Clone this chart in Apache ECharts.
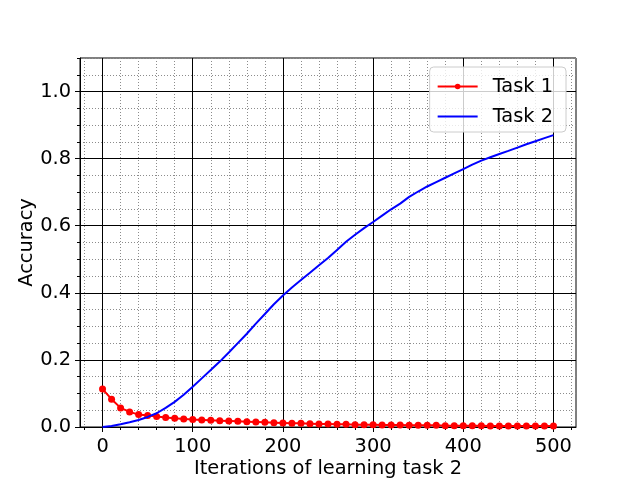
<!DOCTYPE html>
<html>
<head>
<meta charset="utf-8">
<script src="https://cdn.jsdelivr.net/npm/echarts@6/dist/echarts.min.js"></script>
<style>html,body{margin:0;padding:0;background:#fff}#c{width:640px;height:480px}</style>
</head>
<body>
<div id="c"></div>
<script>
const iterations = [0,10,20,30,40,50,60,70,80,90,100,110,120,130,140,150,160,170,180,190,200,210,220,230,240,250,260,270,280,290,300,310,320,330,340,350,360,370,380,390,400,410,420,430,440,450,460,470,480,490,500];
const task1 = [0.113,0.083,0.057,0.045,0.037,0.034,0.031,0.028,0.026,0.024,0.022,0.021,0.020,0.019,0.018,0.017,0.016,0.015,0.014,0.013,0.012,0.011,0.011,0.010,0.009,0.009,0.008,0.008,0.007,0.007,0.007,0.006,0.006,0.006,0.005,0.005,0.005,0.005,0.004,0.004,0.004,0.004,0.004,0.003,0.003,0.003,0.003,0.003,0.003,0.003,0.003];
const task2 = [0.000,0.003,0.008,0.014,0.021,0.030,0.041,0.057,0.075,0.096,0.120,0.145,0.170,0.195,0.222,0.250,0.278,0.308,0.337,0.366,0.392,0.416,0.438,0.460,0.482,0.504,0.528,0.552,0.573,0.593,0.611,0.630,0.649,0.666,0.686,0.702,0.717,0.730,0.743,0.756,0.769,0.782,0.794,0.804,0.814,0.823,0.833,0.843,0.852,0.861,0.870];
const xMajorTicks = [0,100,200,300,400,500];
const xMinorTicks = [-20,0,20,40,60,80,100,120,140,160,180,200,220,240,260,280,300,320,340,360,380,400,420,440,460,480,500,520];
const yMajorTicks = [0,0.2,0.4,0.6,0.8,1.0];
const seriesNames = ['Task 1','Task 2'];
const xTitle = 'Iterations of learning task 2';
const yTitle = 'Accuracy';

const FONT = 'DejaVu Sans';
const FS = 19.4;
const chart = echarts.init(document.getElementById('c'), null, {renderer:'canvas'});
chart.setOption({
  animation: false,
  backgroundColor: '#fff',
  grid: {left: 80, right: 64, top: 58, bottom: 53, show: true, borderColor: '#000', borderWidth: 1, backgroundColor: 'transparent', containLabel: false, outerBoundsMode: 'none'},
  legend: {
    orient: 'vertical', right: 74, top: 67,
    data: [{name: seriesNames[0]}, {name: seriesNames[1], itemStyle: {opacity: 0}}],
    itemWidth: 40, itemHeight: 7, itemGap: 11,
    padding: [10, 13, 6, 7],
    backgroundColor: 'rgba(255,255,255,0.8)',
    borderColor: '#cccccc', borderWidth: 1, borderRadius: 4,
    textStyle: {fontFamily: FONT, fontSize: FS, color: '#000', padding: [0,0,0,10]}
  },
  xAxis: [
    {
      type: 'value', min: -25, max: 525, minInterval: 100, maxInterval: 100, splitNumber: 5,
      position: 'bottom', z: 1,
      name: xTitle, nameLocation: 'middle', nameGap: 32, nameMoveOverlap: false,
      nameTextStyle: {fontFamily: FONT, fontSize: FS, color: '#000'},
      axisLine: {show: true, onZero: false, lineStyle: {color: '#000', width: 1}},
      axisTick: {show: true, length: 5, lineStyle: {color: '#000', width: 1}, customValues: xMajorTicks},
      axisLabel: {fontFamily: FONT, fontSize: FS, color: '#000', margin: 10, customValues: xMajorTicks},
      splitLine: {show: true, lineStyle: {color: '#000', width: 1}}
    },
    {
      type: 'value', min: -25, max: 525, minInterval: 20, maxInterval: 20, splitNumber: 27,
      position: 'bottom', z: 0,
      axisLine: {show: false, onZero: false},
      axisTick: {show: true, length: 3, lineStyle: {color: '#000', width: 1}, customValues: xMinorTicks},
      axisLabel: {show: false},
      splitLine: {show: true, lineStyle: {color: '#8c8c8c', width: 1, type: [1, 2]}}
    }
  ],
  yAxis: [
    {
      type: 'value', min: 0, max: 1.1, interval: 0.2,
      position: 'left', z: 1,
      name: yTitle, nameLocation: 'middle', nameGap: 44, nameRotate: 90, nameMoveOverlap: false,
      nameTextStyle: {fontFamily: FONT, fontSize: FS, color: '#000'},
      axisLine: {show: true, onZero: false, lineStyle: {color: '#000', width: 1}},
      axisTick: {show: true, length: 5, lineStyle: {color: '#000', width: 1}, customValues: yMajorTicks},
      axisLabel: {fontFamily: FONT, fontSize: FS, color: '#000', margin: 9, customValues: yMajorTicks,
        formatter: v => Number(v).toFixed(1)},
      splitLine: {show: true, lineStyle: {color: '#000', width: 1}}
    },
    {
      type: 'value', min: 0, max: 1.1, interval: 0.05,
      position: 'left', z: 0,
      axisLine: {show: false, onZero: false},
      axisTick: {show: true, length: 3, lineStyle: {color: '#000', width: 1}},
      axisLabel: {show: false},
      splitLine: {show: true, lineStyle: {color: '#8c8c8c', width: 1, type: [1, 2]}}
    }
  ],
  series: [
    {
      name: seriesNames[0], type: 'line', xAxisIndex: 0, yAxisIndex: 0,
      data: iterations.map((x, i) => [x, task1[i]]),
      symbol: 'circle', symbolSize: 7, showSymbol: true,
      lineStyle: {color: '#ff0000', width: 2},
      itemStyle: {color: '#ff0000'},
      z: 3
    },
    {
      name: seriesNames[1], type: 'line', xAxisIndex: 0, yAxisIndex: 0,
      data: iterations.map((x, i) => [x, task2[i]]),
      symbol: 'none', showSymbol: false,
      lineStyle: {color: '#0000ff', width: 2},
      itemStyle: {color: '#0000ff'},
      z: 4
    }
  ]
});
</script>
</body>
</html>
